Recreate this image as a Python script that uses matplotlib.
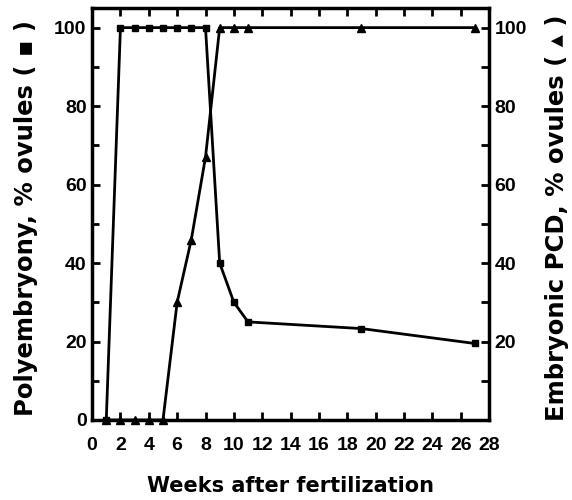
import matplotlib.pyplot as plt
from matplotlib.ticker import MultipleLocator

# Polyembryony (squares)
poly_weeks = [1, 2, 3, 4, 5, 6, 7, 8, 9, 10, 11, 19, 27]
poly_vals = [0, 100, 100, 100, 100, 100, 100, 100, 40, 30, 25, 23.3, 19.5]

# Embryonic PCD (triangles)
pcd_weeks = [1, 2, 3, 4, 5, 6, 7, 8, 9, 10, 11, 19, 27]
pcd_vals = [0, 0, 0, 0, 0, 30, 46, 67, 100, 100, 100, 100, 100]

x_ticks = list(range(0, 29, 2))

plt.rcParams['font.family'] = ['Liberation Sans', 'DejaVu Sans']
plt.rcParams['font.weight'] = 'bold'

fig = plt.figure(figsize=(5.72, 5.0), dpi=100)
ax = fig.add_axes([0.161, 0.16, 0.694, 0.824])

ax.plot(poly_weeks, poly_vals, color='black', lw=2, marker='s', ms=5, clip_on=False, zorder=3)
ax.plot(pcd_weeks, pcd_vals, color='black', lw=2, marker='^', ms=6, clip_on=False, zorder=3)

ax.set_xlim(0, 28)
ax.set_ylim(0, 105)
ax.set_xticks(x_ticks)
ax.set_yticks([0, 20, 40, 60, 80, 100])
ax.yaxis.set_minor_locator(MultipleLocator(10))
ax.tick_params(axis='both', which='both', direction='in', top=True, labelsize=14, width=2)
ax.tick_params(which='major', length=6)
ax.tick_params(which='minor', length=5)
ax.tick_params(axis='x', pad=12)
ax.tick_params(axis='y', pad=4)
for s in ax.spines.values():
    s.set_linewidth(2.5)

ax2 = ax.twinx()
ax2.set_ylim(0, 105)
ax2.set_yticks([10, 20, 30, 40, 50, 60, 70, 80, 90, 100])
ax2.set_yticklabels(['', '20', '', '40', '', '60', '', '80', '', '100'])
ax2.tick_params(axis='y', direction='in', labelsize=14, width=2, length=6, pad=4)
ax.tick_params(axis='y', right=False)

ax.set_xlabel('Weeks after fertilization', fontsize=15, fontweight='bold',
              family=['DejaVu Sans'])
ax.xaxis.set_label_coords(0.5, -0.135)
ax.set_ylabel('Polyembryony, % ovules ( \u25aa )', fontsize=17.5, fontweight='bold',
              family=['DejaVu Sans'])
ax.yaxis.set_label_coords(-0.136, 0.49)
ax2.set_ylabel('Embryonic PCD, % ovules ( \u25b4 )', fontsize=17.5, fontweight='bold',
               family=['DejaVu Sans'])
ax2.yaxis.set_label_coords(1.141, 0.49)

fig.savefig('out.png', dpi=100)
